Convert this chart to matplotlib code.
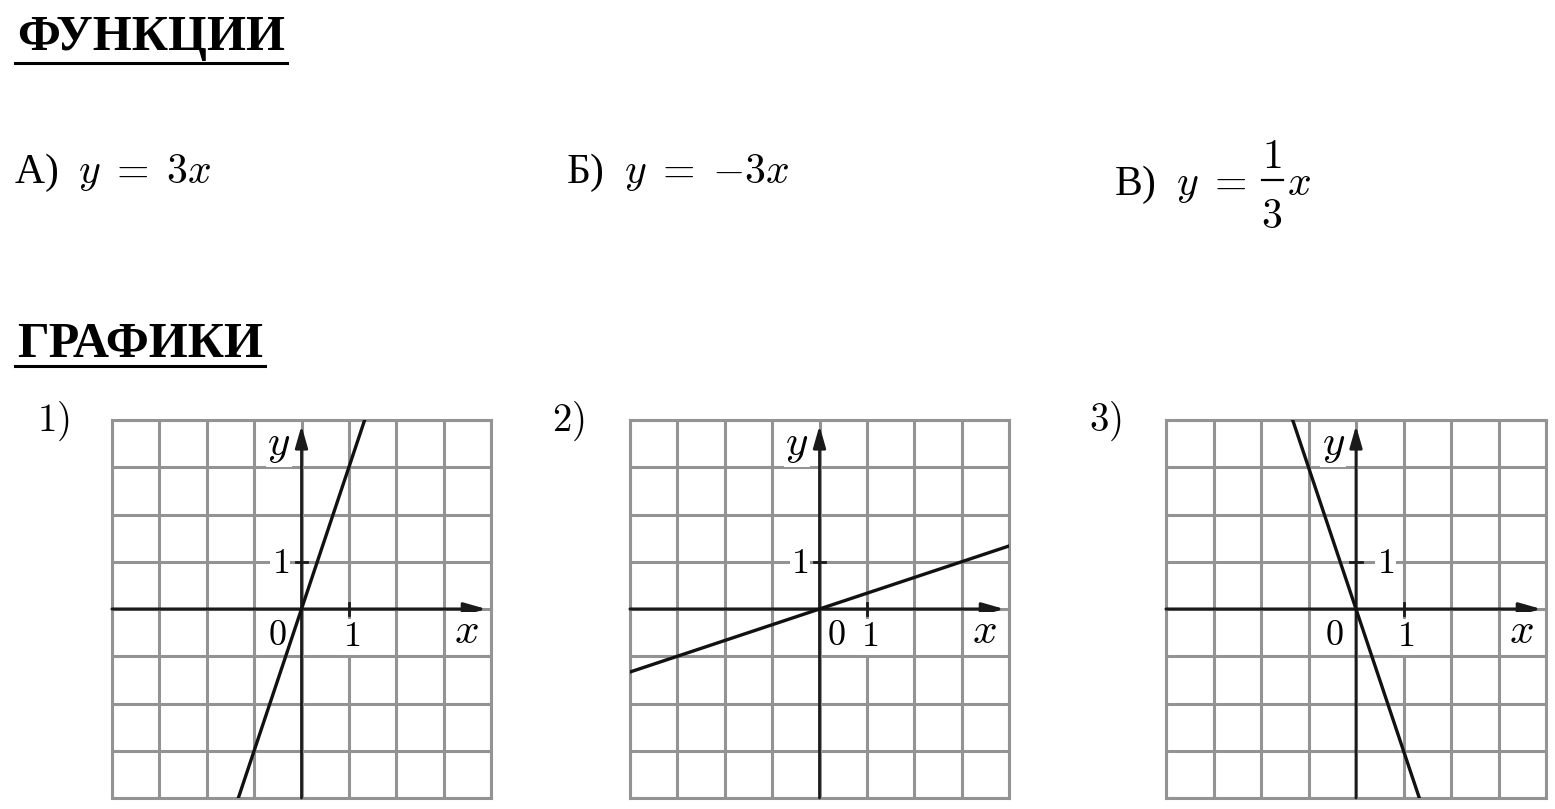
import matplotlib.pyplot as plt
from matplotlib.lines import Line2D

plt.rcParams['mathtext.fontset'] = 'cm'
plt.rcParams['font.family'] = ['Liberation Serif', 'DejaVu Serif']

W, H = 1555, 809

# --- data ---
func_labels = [r'А)  $y\;=\;3x$', r'Б)  $y\;=\;{-}3x$']
frac_num, frac_den = '1', '3'     # В) y = 1/3 x
panel_labels = ['$1)$', '$2)$', '$3)$']
slopes = [3, 1 / 3, -3]          # graphs 1), 2), 3)
grid_ticks = [-4, -3, -2, -1, 0, 1, 2, 3, 4]
ylabel_one_x = [-0.45, -0.42, 0.62]   # where the "1" of the y axis sits
zero_x = [-0.5, 0.36, -0.45]

# panel boxes in pixels (left, top, right, bottom)
boxes = [(112, 420, 491, 798), (630, 420, 1009, 798), (1166, 420, 1546, 798)]


def fx(px):
    return px / W


def fy(py):
    return 1 - py / H


fig = plt.figure(figsize=(W / 100, H / 100), dpi=100)

# headings
h1 = fig.text(fx(17), fy(50), 'ФУНКЦИИ', fontsize=36, fontweight='bold', va='baseline')
h2 = fig.text(fx(17), fy(357), 'ГРАФИКИ', fontsize=36, fontweight='bold', va='baseline')

# formulas
fs = 30
fig.text(fx(14), fy(183), func_labels[0], fontsize=fs, va='baseline')
fig.text(fx(566), fy(183), func_labels[1], fontsize=fs, va='baseline')
fig.text(fx(1114), fy(195), r'В)  $y\;=\;$', fontsize=fs, va='baseline')
fig.text(fx(1272), fy(168), '$%s$' % frac_num, fontsize=fs, ha='center', va='baseline')
fig.text(fx(1272), fy(228), '$%s$' % frac_den, fontsize=fs, ha='center', va='baseline')
fig.add_artist(Line2D([fx(1262), fx(1283)], [fy(180), fy(180)], color='black', lw=1.6))
fig.text(fx(1287), fy(195), '$x$', fontsize=fs, va='baseline')

# panel numbers
for px, lab in zip([37, 552, 1089], panel_labels):
    fig.text(fx(px), fy(431), lab, fontsize=28, va='baseline')

grey = '#939393'
for i, (l, t, r, b) in enumerate(boxes):
    ax = fig.add_axes([fx(l), fy(b), (r - l) / W, (b - t) / H])
    ax.set_xlim(-4, 4)
    ax.set_ylim(-4, 4)
    ax.set_xticks(grid_ticks)
    ax.set_yticks(grid_ticks)
    ax.tick_params(length=0, labelbottom=False, labelleft=False)
    ax.grid(True, color=grey, lw=2.2)
    for s in ax.spines.values():
        s.set_color(grey)
        s.set_linewidth(2.2)

    # axes with arrows
    arrow = '-|>,head_length=0.7,head_width=0.2'
    ax.annotate('', xy=(3.9, 0), xytext=(-4, 0),
                arrowprops=dict(arrowstyle=arrow, color='#1a1a1a', lw=2.2,
                                mutation_scale=19, shrinkA=0, shrinkB=0))
    ax.annotate('', xy=(0, 3.88), xytext=(0, -4),
                arrowprops=dict(arrowstyle=arrow, color='#1a1a1a', lw=2.0,
                                mutation_scale=19, shrinkA=0, shrinkB=0))
    # unit ticks
    ax.plot([1, 1], [-0.12, 0.12], color='#1a1a1a', lw=2.0)
    ax.plot([-0.12, 0.12], [1, 1], color='#1a1a1a', lw=2.0)

    box = dict(fc='white', ec='none', pad=1)
    ax.text(-0.48, 3.45, '$y$', fontsize=31, ha='center', va='center', bbox=box)
    ax.text(3.48, -0.5, '$x$', fontsize=31, ha='center', va='center', bbox=box)
    ax.text(ylabel_one_x[i], 0.95, '$1$', fontsize=26, ha='center', va='center', bbox=box)
    ax.text(1.05, -0.6, '$1$', fontsize=26, ha='center', va='center', bbox=box)
    ax.text(zero_x[i], -0.58, '$0$', fontsize=26, ha='center', va='center', bbox=box)

    # the graph
    ax.axline((0, 0), slope=slopes[i], color='#111111', lw=2.4, zorder=5)

# underline the headings
fig.canvas.draw()
rend = fig.canvas.get_renderer()
for h, py in [(h1, 63), (h2, 366)]:
    bb = h.get_window_extent(rend)
    fig.add_artist(Line2D([bb.x0 / W - 0.001, bb.x1 / W + 0.001], [fy(py)] * 2,
                          color='black', lw=2.2))

fig.savefig('out.png', dpi=100)
